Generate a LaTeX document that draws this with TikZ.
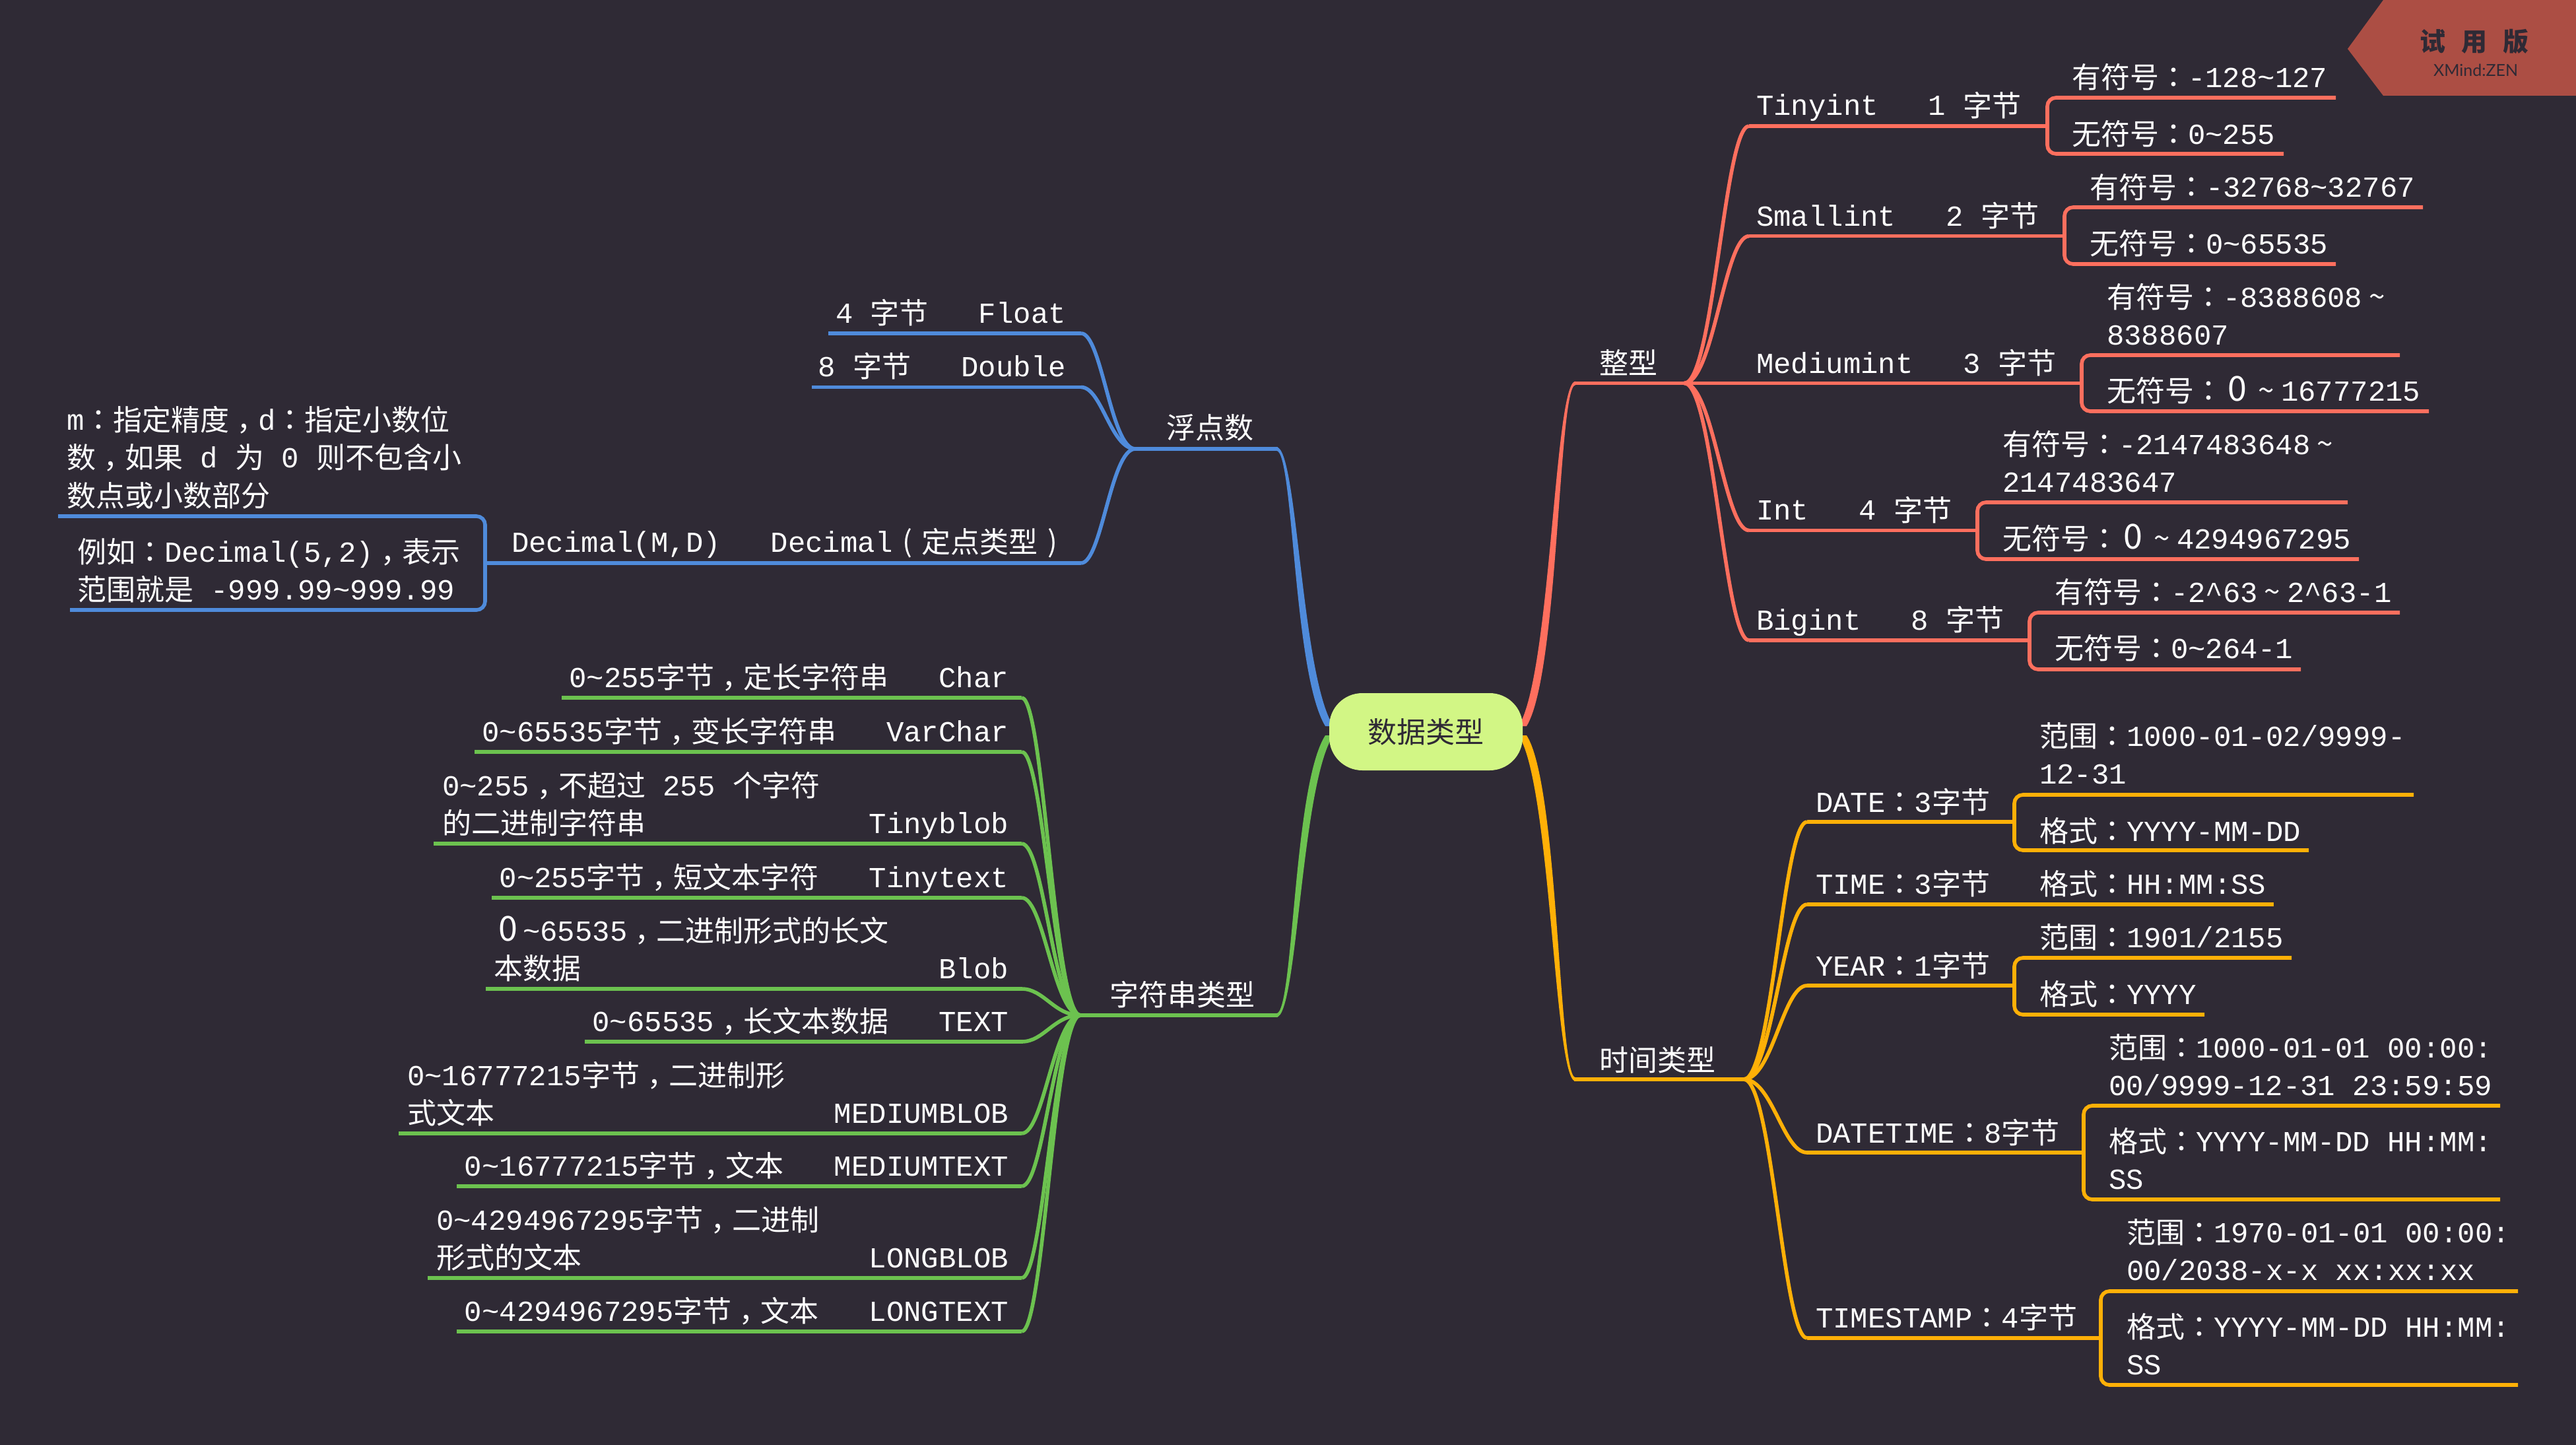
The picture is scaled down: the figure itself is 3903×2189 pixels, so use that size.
\documentclass[tikz,border=0pt]{standalone}
\usepackage{fontspec}
\usetikzlibrary{calc}
\setmainfont{Liberation Mono}
\newfontfamily\cj{Noto Sans CJK SC}
\newfontfamily\cjt{Noto Sans CJK TC}
\newfontfamily\lat{Lato}
\newcommand\zh[1]{\lower1.5pt\hbox{\cj #1}}
\newcommand\cln{\lower1pt\hbox{\cjt ：}}
\newcommand\cma{\lower14pt\hbox{\cjt ，}}
\newcommand\tld{\char126\relax}
\newcommand\crt{\char94\relax}
\newcommand\ftl{\makebox[1em][c]{\cj\char126\relax}}
\newcommand\fzr{\makebox[44pt][c]{\fontsize{52}{57}\selectfont\cj 0}}
\newcommand\lpr{\makebox[44pt][c]{\cj (}}
\newcommand\rpr{\makebox[44pt][c]{\cj )}}
\newcommand\gap{\hspace{76pt}}
\definecolor{bgc}{HTML}{2F2A35}
\definecolor{redb}{HTML}{FF6F5E}
\definecolor{blueb}{HTML}{4F8BDB}
\definecolor{greenb}{HTML}{6CC24F}
\definecolor{yelb}{HTML}{FFB007}
\definecolor{hubc}{HTML}{D2F685}
\definecolor{bdg}{HTML}{AC4E44}
\colorlet{bc}{redb}
\tikzset{
  txt/.style={text=white,inner sep=0pt,outer sep=0pt,anchor=base west,font=\fontsize{44}{57}\selectfont},
  txr/.style={txt,anchor=base east},
  br/.style={draw=bc,line width=5.6pt,line cap=butt},
}
% two-line text, baseline of the node = first line
\newcommand\two[2]{\vtop{\baselineskip=57.3pt\lineskiplimit=-100pt\hbox{#1}\hbox{#2}}}
\newcommand\three[3]{\vtop{\baselineskip=57.3pt\lineskiplimit=-100pt\hbox{#1}\hbox{#2}\hbox{#3}}}
% horizontal line under a topic
\newcommand\tline[4]{\coordinate (#1-l) at (#2,#4);\coordinate (#1-r) at (#3,#4);\draw[br] (#1-l) -- (#1-r);}
% bracket: name, x, ytop, xtopend, ybot, xbotend
\newcommand\brk[6]{\coordinate (#1-t) at (#4,#3);\coordinate (#1-b) at (#6,#5);\coordinate (#1-c) at (#2,#3);
  \draw[br,rounded corners=13pt] (#1-t) -- (#1-c) -- (#1-c |- #1-b) -- (#1-b);}
% branch curve
\newcommand\cv[2]{\draw[br] let \p1=(#1),\p2=(#2) in (\p1) .. controls ({\x1+.45*(\x2-\x1)},\y1) and ({\x1+.62*(\x2-\x1)},\y2) .. (\p2);}
% tapered main branch: colour, A, c1, c2, B, start offset, c2 offset, end offset
\newcommand\taper[8]{\fill[#1] ($(#2)+(#6)$) .. controls ($(#3)+(#6)$) and ($(#4)+(#7)$) .. ($(#5)+(#8)$) -- ($(#5)-(#8)$) .. controls ($(#4)-(#7)$) and ($(#3)-(#6)$) .. ($(#2)-(#6)$) -- cycle;}
\begin{document}
\begin{tikzpicture}[x=1pt,y=-1pt]
\useasboundingbox (0,0) rectangle (3903,2189);
\fill[bgc] (0,0) rectangle (3903,2189);

% ---- badge
\coordinate (bd1) at (3611,0);\coordinate (bd2) at (3557,74);\coordinate (bd3) at (3611,145);\coordinate (bd4) at (3903,145);\coordinate (bd5) at (3903,0);
\fill[bdg] (bd1) -- (bd2) -- (bd3) -- (bd4) -- (bd5) -- cycle;
\node[inner sep=0pt,text=bgc,font=\fontsize{39}{45}\selectfont] (bdgA) at (3749,63) {\cj\bfseries 试\hspace{24pt}用\hspace{24pt}版};
\node[inner sep=0pt,text=bgc,font=\fontsize{25}{30}\selectfont] (bdgB) at (3751,106) {\lat XMind:ZEN};

% ---- main branches
\coordinate (hubTR) at (2307,1100);\coordinate (hubBR) at (2307,1114);
\coordinate (hubTL) at (2014,1100);\coordinate (hubBL) at (2014,1114);
\coordinate (c1a) at (2356,1020);\coordinate (c1b) at (2358,580.5);
\coordinate (c2a) at (2356,1190);\coordinate (c2b) at (2358,1635);
\coordinate (c3a) at (1965,1020);\coordinate (c3b) at (1963,680);
\coordinate (c4a) at (1965,1190);\coordinate (c4b) at (1963,1538);
\coordinate (zx-e) at (2387,580.5);\coordinate (sj-e) at (2387,1635);
\coordinate (fd-e) at (1934,680);\coordinate (zf-e) at (1934,1538);
\taper{redb}{hubTR}{c1a}{c1b}{zx-e}{6,0}{3,2.8}{0,2.8}
\taper{yelb}{hubBR}{c2a}{c2b}{sj-e}{6,0}{3,-2.8}{0,-2.8}
\taper{blueb}{hubTL}{c3a}{c3b}{fd-e}{-6,0}{-3,2.8}{0,2.8}
\taper{greenb}{hubBL}{c4a}{c4b}{zf-e}{-6,0}{-3,-2.8}{0,-2.8}
\node[fill=hubc,text=bgc,rounded corners=50pt,minimum width=293pt,minimum height=117pt,inner sep=0pt,font=\fontsize{44}{57}\selectfont] (hub) at (2160.5,1108.5) {\zh{数据类型}};

% ---- 整型
\begin{scope}
\colorlet{bc}{redb}
\tline{zx}{2385}{2552}{580.5}
\node[txt] (zxT) at (2423,565) {\zh{整型}};
\tline{ti}{2650}{3102}{191}
\tline{sm}{2650}{3128}{357.6}
\tline{me}{2550}{3154}{580.5}
\tline{in}{2650}{2996}{803.5}
\tline{bi}{2650}{3075}{970}
\cv{zx-r}{ti-l}\cv{zx-r}{sm-l}\cv{zx-r}{in-l}\cv{zx-r}{bi-l}
\node[txt] (tiT) at (2661,175) {Tinyint\gap 1 \zh{字节}};
\node[txt] (smT) at (2661,342) {Smallint\gap 2 \zh{字节}};
\node[txt] (meT) at (2661,565) {Mediumint\gap 3 \zh{字节}};
\node[txt] (inT) at (2661,787.5) {Int\gap 4 \zh{字节}};
\node[txt] (biT) at (2661,954) {Bigint\gap 8 \zh{字节}};
\brk{tib}{3102}{148}{3539}{233}{3460}
\brk{smb}{3128}{314}{3671}{400}{3539}
\brk{meb}{3154}{538}{3636}{623}{3680}
\brk{inb}{2996}{761}{3557}{847}{3574}
\brk{bib}{3075}{928}{3636}{1014}{3486}
\node[txt] (ti1) at (3139,132.5) {\zh{有符号}\cln -128\tld 127};
\node[txt] (ti2) at (3139,218) {\zh{无符号}\cln 0\tld 255};
\node[txt] (sm1) at (3166,298.5) {\zh{有符号}\cln -32768\tld 32767};
\node[txt] (sm2) at (3166,384) {\zh{无符号}\cln 0\tld 65535};
\node[txt] (me1) at (3192,465) {\two{\zh{有符号}\cln -8388608\ftl}{8388607}};
\node[txt] (me2) at (3192,607) {\zh{无符号}\cln\fzr\ftl 16777215};
\node[txt] (in1) at (3034,688) {\two{\zh{有符号}\cln -2147483648\ftl}{2147483647}};
\node[txt] (in2) at (3034,831) {\zh{无符号}\cln\fzr\ftl 4294967295};
\node[txt] (bi1) at (3113,912) {\zh{有符号}\cln -2\crt 63\ftl 2\crt 63-1};
\node[txt] (bi2) at (3113,997) {\zh{无符号}\cln 0\tld 264-1};
\end{scope}

% ---- 时间类型
\begin{scope}
\colorlet{bc}{yelb}
\tline{sj}{2385}{2642}{1635}
\node[txt] (sjT) at (2423,1621) {\zh{时间类型}};
\tline{da}{2738}{3052}{1245}
\tline{ts}{2738}{3445}{1370}
\tline{ye}{2738}{3052}{1493}
\tline{dt}{2738}{3157}{1746}
\tline{tm}{2738}{3183}{2027}
\cv{sj-r}{da-l}\cv{sj-r}{ts-l}\cv{sj-r}{ye-l}\cv{sj-r}{dt-l}\cv{sj-r}{tm-l}
\node[txt] (daT) at (2751,1230) {DATE\cln 3\zh{字节}};
\node[txt] (tsT) at (2751,1354) {TIME\cln 3\zh{字节}};
\node[txt] (ts1) at (3090,1354) {\zh{格式}\cln HH:MM:SS};
\node[txt] (yeT) at (2751,1478) {YEAR\cln 1\zh{字节}};
\node[txt] (dtT) at (2751,1731) {DATETIME\cln 8\zh{字节}};
\node[txt] (tmT) at (2751,2011) {TIMESTAMP\cln 4\zh{字节}};
\brk{dab}{3052}{1204}{3657}{1288}{3498}
\brk{yeb}{3052}{1451}{3472}{1537}{3340}
\brk{dtb}{3157}{1675}{3788}{1817}{3788}
\brk{tmb}{3183}{1956}{3815}{2098}{3815}
\node[txt] (da1) at (3090,1130) {\two{\zh{范围}\cln 1000-01-02/9999-}{12-31}};
\node[txt] (da2) at (3090,1274) {\zh{格式}\cln YYYY-MM-DD};
\node[txt] (ye1) at (3090,1435) {\zh{范围}\cln 1901/2155};
\node[txt] (ye2) at (3090,1521) {\zh{格式}\cln YYYY};
\node[txt] (dt1) at (3195,1602) {\two{\zh{范围}\cln 1000-01-01 00:00:}{00/9999-12-31 23:59:59}};
\node[txt] (dt2) at (3195,1744) {\two{\zh{格式}\cln YYYY-MM-DD HH:MM:}{SS}};
\node[txt] (tm1) at (3222,1882) {\two{\zh{范围}\cln 1970-01-01 00:00:}{00/2038-x-x xx:xx:xx}};
\node[txt] (tm2) at (3222,2025) {\two{\zh{格式}\cln YYYY-MM-DD HH:MM:}{SS}};
\end{scope}

% ---- 浮点数
\begin{scope}
\colorlet{bc}{blueb}
\tline{fd}{1936}{1720}{680}
\node[txt] (fdT) at (1767,663) {\zh{浮点数}};
\tline{fl}{1255}{1638}{505}
\tline{db}{1230}{1638}{586.5}
\tline{de}{735}{1638}{853}
\cv{fd-r}{fl-r}\cv{fd-r}{db-r}\cv{fd-r}{de-r}
\node[txr] (flT) at (1615,489) {4 \zh{字节}\gap Float};
\node[txr] (dbT) at (1615,570) {8 \zh{字节}\gap Double};
\node[txt] (deT) at (775,836) {Decimal(M,D)\gap Decimal\lpr\zh{定点类型}\rpr};
\brk{deb}{735}{782}{88}{924}{106}
\node[txt] (de1) at (101,651) {\three{m\cln\zh{指定精度}\cma d\cln\zh{指定小数位}}{\zh{数}\cma\zh{如果} d \zh{为} 0 \zh{则不包含小}}{\zh{数点或小数部分}}};
\node[txt] (de2) at (117,851) {\two{\zh{例如}\cln Decimal(5,2)\cma\zh{表示}}{\zh{范围就是} -999.99\tld 999.99}};
\end{scope}

% ---- 字符串类型
\begin{scope}
\colorlet{bc}{greenb}
\tline{zf}{1936}{1637}{1538}
\node[txt] (zfT) at (1681,1522) {\zh{字符串类型}};
\tline{g1}{851}{1548}{1057}
\tline{g2}{719}{1548}{1139}
\tline{g3}{657}{1548}{1278}
\tline{g4}{745}{1548}{1360}
\tline{g5}{736}{1548}{1498}
\tline{g6}{886}{1548}{1578}
\tline{g7}{604}{1548}{1717}
\tline{g8}{692}{1548}{1797}
\tline{g9}{648}{1548}{1936}
\tline{g10}{692}{1548}{2017}
\foreach \g in {g1,g2,g3,g4,g5,g6,g7,g8,g9,g10}{\cv{zf-r}{\g-r}}
\node[txr] (g1T) at (1528,1041) {0\tld 255\zh{字节}\cma\zh{定长字符串}\gap Char};
\node[txr] (g2T) at (1528,1123) {0\tld 65535\zh{字节}\cma\zh{变长字符串}\gap VarChar};
\node[txt] (g3T) at (670,1205) {\two{0\tld 255\cma\zh{不超过} 255 \zh{个字符}}{\hbox to 858pt{\zh{的二进制字符串}\hfill Tinyblob}}};
\node[txr] (g4T) at (1528,1344) {0\tld 255\zh{字节}\cma\zh{短文本字符}\gap Tinytext};
\node[txt] (g5T) at (748,1425) {\two{\fzr\tld 65535\cma\zh{二进制形式的长文}}{\hbox to 780pt{\zh{本数据}\hfill Blob}}};
\node[txr] (g6T) at (1528,1562) {0\tld 65535\cma\zh{长文本数据}\gap TEXT};
\node[txt] (g7T) at (617,1644) {\two{0\tld 16777215\zh{字节}\cma\zh{二进制形}}{\hbox to 911pt{\zh{式文本}\hfill MEDIUMBLOB}}};
\node[txr] (g8T) at (1528,1781) {0\tld 16777215\zh{字节}\cma\zh{文本}\gap MEDIUMTEXT};
\node[txt] (g9T) at (661,1863) {\two{0\tld 4294967295\zh{字节}\cma\zh{二进制}}{\hbox to 867pt{\zh{形式的文本}\hfill LONGBLOB}}};
\node[txr] (g10T) at (1528,2001) {0\tld 4294967295\zh{字节}\cma\zh{文本}\gap LONGTEXT};
\end{scope}
\end{tikzpicture}
\end{document}
